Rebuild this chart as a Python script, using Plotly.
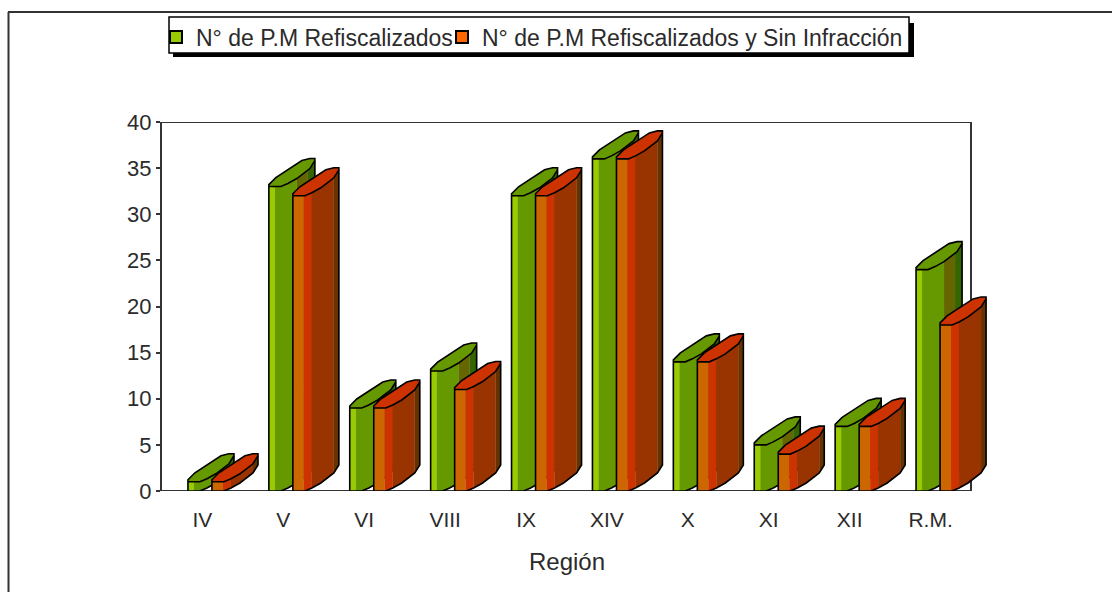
import numpy as np
import plotly.graph_objects as go

regions = ["IV", "V", "VI", "VIII", "IX", "XIV", "X", "XI", "XII", "R.M."]
refiscalizados = [1, 33, 9, 13, 32, 36, 14, 5, 7, 24]
sin_infraccion = [1, 32, 9, 11, 32, 36, 14, 4, 7, 18]
name_a = "N° de P.M Refiscalizados"
name_b = "N° de P.M Refiscalizados y Sin Infracción"
axis_title = "Región"

W, H = 1112, 592
L, R, T, B = 162, 971, 122, 491
R_EXT = 1000
PX_X = (R - L) / len(regions)
PX_Y = (B - T) / 40
FONT = "Liberation Sans"
INK = "#2b2b2b"
AXIS = "#333333"

KX = [0, 12, 19, 28, 41, 46]
KY = [0, 0, 3, 8, 18, 26]
UPPER = [(0, 2), (7, 9), (23, 19), (33, 26), (41, 28), (46, 28)]


def lift(dx):
    return float(np.interp(dx, KX, KY))


def knots(a, b):
    return [a] + [k for k in KX if a < k < b] + [b]


def pts(i, offset, dx, value, up):
    return i + 0.5 + (offset + dx) / PX_X, value + up / PX_Y


def add_poly(xs, ys, poly):
    xs.extend([p[0] for p in poly] + [None])
    ys.extend([p[1] for p in poly] + [None])


def series_traces(values, offset, strips, top_color):
    traces = []
    for a, b, color in strips:
        xs, ys = [], []
        for i, v in enumerate(values):
            low = [pts(i, offset, d, 0, lift(d)) for d in knots(a, b)]
            high = [pts(i, offset, d, v, lift(d)) for d in knots(a, b)]
            add_poly(xs, ys, low + high[::-1])
        traces.append(go.Scatter(x=xs, y=ys, mode="lines", fill="toself", fillcolor=color,
                                 line=dict(width=0.5, color=color), showlegend=False,
                                 hoverinfo="skip"))
    xs, ys, ox, oy = [], [], [], []
    for i, v in enumerate(values):
        edge = [pts(i, offset, d, v, lift(d)) for d in KX]
        upper = [pts(i, offset, d, v, u) for d, u in UPPER]
        add_poly(xs, ys, edge + upper[::-1])
        bottom = [pts(i, offset, d, 0, lift(d)) for d in KX]
        add_poly(ox, oy, edge)
        add_poly(ox, oy, [pts(i, offset, 0, 0, 0), pts(i, offset, 0, v, 0)] + upper
                 + [pts(i, offset, 46, 0, lift(46))] + bottom[::-1])
    traces.append(go.Scatter(x=xs, y=ys, mode="lines", fill="toself", fillcolor=top_color,
                             line=dict(width=0), showlegend=False, hoverinfo="skip"))
    traces.append(go.Scatter(x=ox, y=oy, mode="lines", line=dict(width=1.6, color="#000000"),
                             showlegend=False, hoverinfo="skip"))
    return traces


green = [(0, 6, "#99cc00"), (6, 28, "#669900"), (28, 39, "#666600"), (39, 46, "#336600")]
orange = [(0, 11, "#cc6600"), (11, 19, "#cc3300"), (19, 41, "#993300"), (41, 46, "#663300")]

fig = go.Figure()
for t in series_traces(refiscalizados, -14.5, green, "#669900"):
    fig.add_trace(t)
for t in series_traces(sin_infraccion, 9.5, orange, "#cc3300"):
    fig.add_trace(t)
for name, color, lg in [(name_a, "#99cc00", "legend"), (name_b, "#ff6600", "legend2")]:
    fig.add_trace(go.Scatter(x=[None], y=[None], mode="markers", name=name, legend=lg,
                             showlegend=True,
                             marker=dict(symbol="square", size=13, color=color,
                                         line=dict(width=1.5, color="#000000"))))


def paper_rect(x0, y0, x1, y1, **kw):
    return dict(type="rect", xref="paper", yref="paper", x0=x0 / W, x1=x1 / W,
                y0=1 - y0 / H, y1=1 - y1 / H, **kw)


def paper_line(x0, y0, x1, y1):
    return dict(type="line", xref="paper", yref="paper", x0=x0 / W, x1=x1 / W,
                y0=1 - y0 / H, y1=1 - y1 / H, line=dict(color=AXIS, width=2))


def data_line(x0, y0, x1, y1):
    return dict(type="line", xref="x", yref="y", x0=x0, x1=x1, y0=y0, y1=y1, layer="below",
                line=dict(color=AXIS, width=2))


def legend_box(left):
    return dict(x=left / W, y=1 - 37 / H, xanchor="left", yanchor="middle",
                bgcolor="rgba(0,0,0,0)", borderwidth=0,
                font=dict(family=FONT, size=23, color=INK), itemsizing="constant")


n = len(regions)
fig.update_layout(
    width=W, height=H, autosize=False,
    margin=dict(l=0, r=0, t=0, b=0, autoexpand=False),
    paper_bgcolor="white", plot_bgcolor="white",
    font=dict(family=FONT, size=21, color=INK),
    legend=legend_box(156),
    legend2=legend_box(442),
    xaxis=dict(domain=[L / W, R_EXT / W], range=[0, (R_EXT - L) / PX_X], tickmode="array",
               tickvals=[i + 0.5 for i in range(n)], ticktext=regions, automargin=False,
               ticks="", showgrid=False, zeroline=False, showline=False, ticklabelstandoff=14),
    yaxis=dict(domain=[1 - B / H, 1 - T / H], range=[0, 40], tickmode="array", automargin=False,
               tickvals=list(range(0, 45, 5)), ticks="outside", ticklen=4, tickwidth=2,
               tickcolor=AXIS, showgrid=False, zeroline=False, showline=True,
               tickfont=dict(family=FONT, size=22, color=INK),
               linecolor=AXIS, linewidth=2, layer="below traces", ticklabelstandoff=0),
    annotations=[dict(text=axis_title, xref="x", yref="paper", x=n / 2, y=1 - 561 / H,
                      xanchor="center", yanchor="middle", showarrow=False,
                      font=dict(family=FONT, size=24, color=INK))],
    shapes=[paper_line(8.5, 12, 8.5, H + 2), paper_line(8, 12, W + 2, 12),
            paper_rect(173, 23, 914, 57, fillcolor="#000000", line=dict(width=0)),
            paper_rect(169, 17, 909, 53, fillcolor="white", line=dict(color="#000000", width=1.5)),
            data_line(0, 0, n, 0), data_line(0, 40, n, 40), data_line(n, 0, n, 40)],
)
fig.write_html("out.html", config={"displayModeBar": False},
               post_script="document.body.style.margin='0';document.body.style.overflow='hidden';")
